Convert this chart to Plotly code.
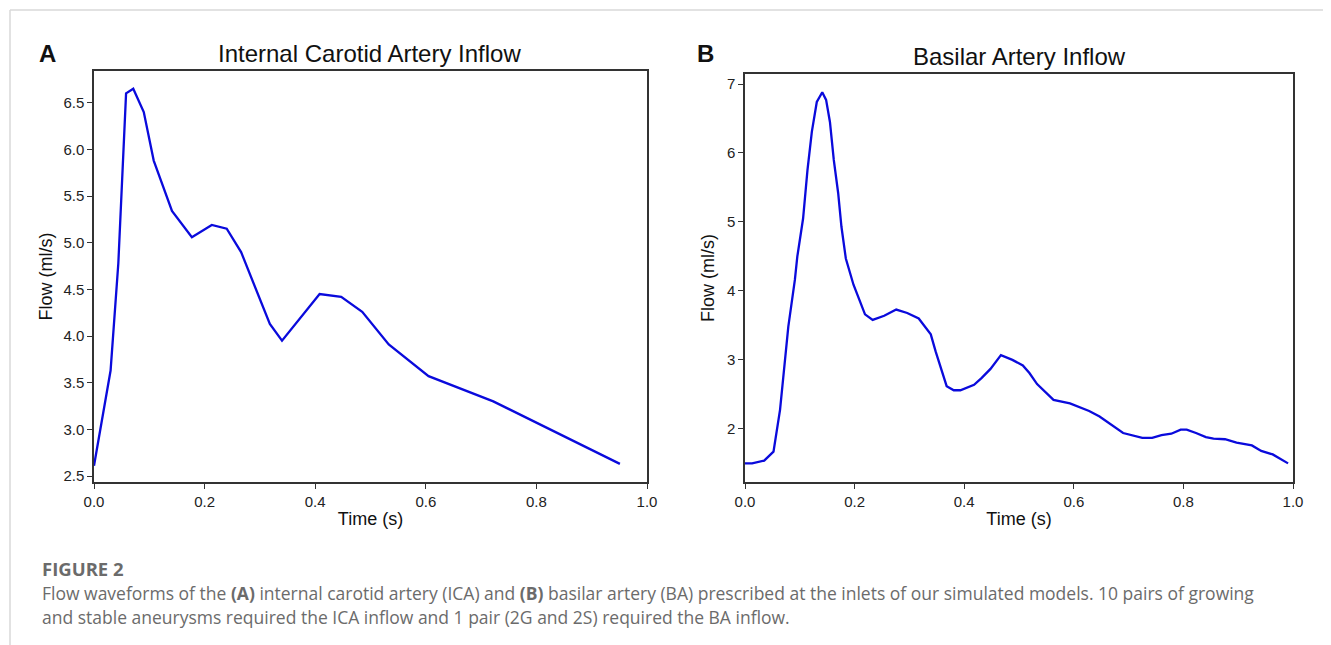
import plotly.graph_objects as go

OFF = 8  # default page body margin
W, H = 1331 - OFF, 645 - OFF

# ICA inflow waveform
ica_time = [0.0, 0.030, 0.044, 0.058, 0.071, 0.090, 0.108, 0.141, 0.177, 0.213,
            0.240, 0.266, 0.318, 0.340, 0.408, 0.447, 0.485, 0.533, 0.605, 0.722, 0.951]
ica_flow = [2.61, 3.63, 4.78, 6.60, 6.65, 6.40, 5.88, 5.34, 5.06, 5.19,
            5.15, 4.90, 4.13, 3.95, 4.45, 4.42, 4.26, 3.91, 3.57, 3.30, 2.63]

# BA inflow waveform
ba_time = [0.0, 0.013, 0.035, 0.052, 0.064, 0.079, 0.091, 0.0955, 0.106, 0.114, 0.122,
           0.131, 0.141, 0.148, 0.155, 0.162, 0.170, 0.176, 0.184, 0.198, 0.219,
           0.233, 0.254, 0.276, 0.296, 0.317, 0.339, 0.348, 0.368, 0.381, 0.393,
           0.418, 0.432, 0.448, 0.467, 0.488, 0.507, 0.519, 0.533, 0.563, 0.593,
           0.628, 0.647, 0.662, 0.690, 0.725, 0.743, 0.760, 0.778, 0.795, 0.806,
           0.823, 0.841, 0.855, 0.876, 0.897, 0.925, 0.942, 0.963, 0.991]
ba_flow = [1.50, 1.50, 1.54, 1.67, 2.28, 3.48, 4.16, 4.50, 5.05, 5.75, 6.31,
           6.74, 6.88, 6.77, 6.45, 5.90, 5.42, 4.93, 4.47, 4.09, 3.66,
           3.58, 3.64, 3.73, 3.68, 3.60, 3.37, 3.12, 2.62, 2.56, 2.56,
           2.64, 2.74, 2.87, 3.07, 3.00, 2.92, 2.81, 2.65, 2.42, 2.37,
           2.26, 2.18, 2.10, 1.94, 1.87, 1.87, 1.91, 1.93, 1.99, 1.99,
           1.94, 1.88, 1.86, 1.85, 1.80, 1.76, 1.68, 1.63, 1.50]

x_ticks = [0.0, 0.2, 0.4, 0.6, 0.8, 1.0]
ica_yticks = [2.5, 3.0, 3.5, 4.0, 4.5, 5.0, 5.5, 6.0, 6.5]
ba_yticks = [2, 3, 4, 5, 6, 7]

titles = ["Internal Carotid Artery Inflow", "Basilar Artery Inflow"]
panel_labels = ["A", "B"]
x_title = "Time (s)"
y_title = "Flow (ml/s)"
fig_label = "FIGURE 2"
caption_1 = ("Flow waveforms of the <b>(A)</b> internal carotid artery (ICA) and <b>(B)</b> basilar artery (BA) "
             "prescribed at the inlets of our simulated models. 10 pairs of growing")
caption_2 = "and stable aneurysms required the ICA inflow and 1 pair (2G and 2S) required the BA inflow."

LINE = "#0a0adc"
AX = "#333333"
FONT = "Liberation Sans, Arial, sans-serif"
CAPFONT = "Open Sans, sans-serif"

def px(x):
    return (x - OFF) / W

def py(y):
    return 1 - (y - OFF) / H

fig = go.Figure()
fig.add_trace(go.Scatter(x=ica_time, y=ica_flow, mode="lines",
                         line=dict(color=LINE, width=2.3), xaxis="x", yaxis="y",
                         showlegend=False))
fig.add_trace(go.Scatter(x=ba_time, y=ba_flow, mode="lines",
                         line=dict(color=LINE, width=2.3), xaxis="x2", yaxis="y2",
                         showlegend=False))

axis_common = dict(showline=True, linecolor=AX, linewidth=1.5, mirror=True,
                   ticks="outside", tickcolor=AX, ticklen=5, tickwidth=1.2,
                   showgrid=False, zeroline=False, automargin=False,
                   tickfont=dict(family=FONT, size=15, color="#222"))
title_font = dict(family=FONT, size=18, color="#111")

fig.update_layout(
    width=W, height=H,
    margin=dict(l=0, r=0, t=0, b=0),
    paper_bgcolor="white", plot_bgcolor="white",
    xaxis=dict(domain=[px(94), px(647)], range=[0, 1], tickvals=x_ticks,
               tickformat=".1f", anchor="y",
               title=dict(text=x_title, font=title_font, standoff=4),
               **axis_common),
    yaxis=dict(domain=[py(482), py(71)], range=[2.436, 6.84], tickvals=ica_yticks,
               tickformat=".1f", anchor="x",
               title=dict(text=y_title, font=title_font, standoff=6),
               **axis_common),
    xaxis2=dict(domain=[px(745), px(1293)], range=[0, 1], tickvals=x_ticks,
                tickformat=".1f", anchor="y2",
                title=dict(text=x_title, font=title_font, standoff=4),
                **axis_common),
    yaxis2=dict(domain=[py(482), py(74)], range=[1.23, 7.145], tickvals=ba_yticks,
                anchor="x2",
                title=dict(text=y_title, font=title_font, standoff=8),
                **axis_common),
)

annotations = [
    dict(x=px(370), y=py(53), text=titles[0], font=dict(family=FONT, size=24, color="#111")),
    dict(x=px(1019), y=py(56), text=titles[1], font=dict(family=FONT, size=24, color="#111")),
    dict(x=px(47), y=py(53), text="<b>" + panel_labels[0] + "</b>", font=dict(family=FONT, size=24, color="#111")),
    dict(x=px(705), y=py(53), text="<b>" + panel_labels[1] + "</b>", font=dict(family=FONT, size=24, color="#111")),
]
for a in annotations:
    a.update(xref="paper", yref="paper", showarrow=False, xanchor="center", yanchor="middle")

cap_font = dict(family=CAPFONT, size=17.5, color="#6b6b6b")
annotations += [
    dict(x=px(40), y=py(568), text="<b>" + fig_label + "</b>", font=dict(family=CAPFONT, size=18.5, color="#6b6b6b"),
         xanchor="left", yanchor="middle", xref="paper", yref="paper", showarrow=False),
    dict(x=px(40), y=py(593), text=caption_1, font=cap_font,
         xanchor="left", yanchor="middle", xref="paper", yref="paper", showarrow=False),
    dict(x=px(40), y=py(617), text=caption_2, font=cap_font,
         xanchor="left", yanchor="middle", xref="paper", yref="paper", showarrow=False),
]
fig.update_layout(annotations=annotations)

fig.update_layout(shapes=[
    dict(type="line", xref="paper", yref="paper", x0=px(10), x1=1, y0=py(10), y1=py(10),
         line=dict(color="#d8d8d8", width=1.5)),
    dict(type="line", xref="paper", yref="paper", x0=px(10), x1=px(10), y0=0, y1=py(10),
         line=dict(color="#d8d8d8", width=1.5)),
])

fig.write_html("out.html")
